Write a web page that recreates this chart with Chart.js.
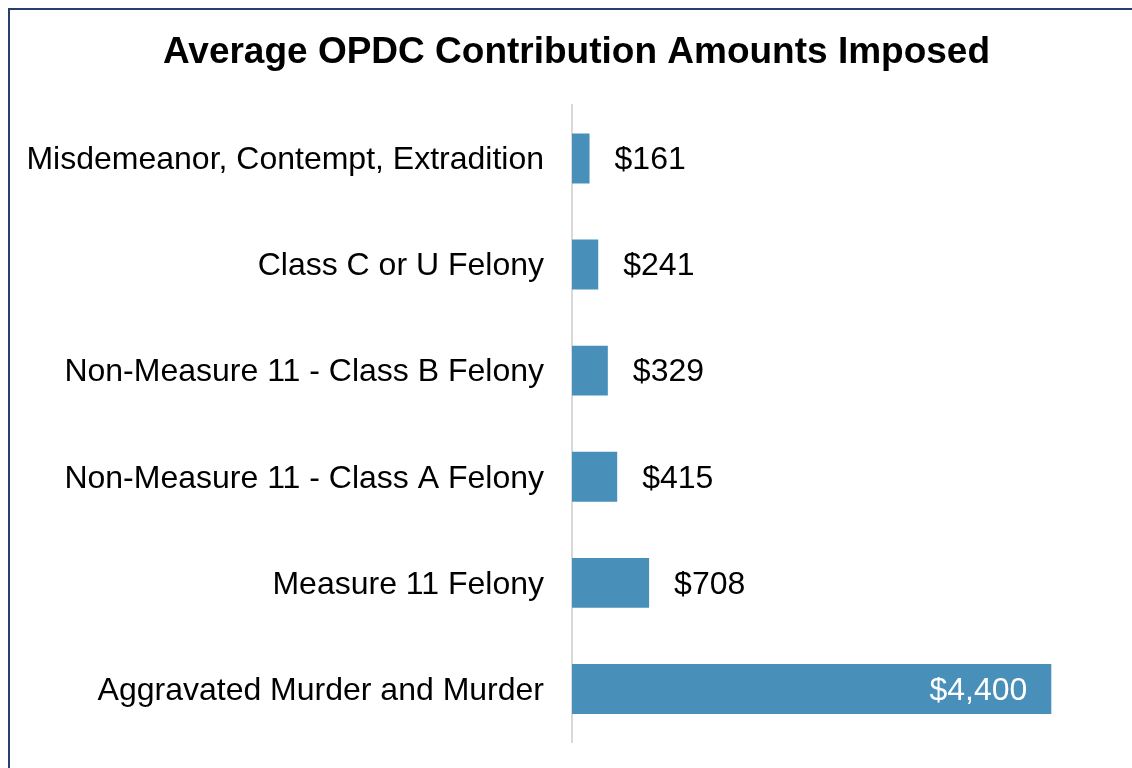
<!DOCTYPE html>
<html>
<head>
<meta charset="utf-8">
<script src="https://cdn.jsdelivr.net/npm/chart.js@4/dist/chart.umd.min.js"></script>
<style>
  html, body { margin: 0; padding: 0; background: #fff; overflow: hidden; }
  #wrap { position: absolute; left: 0; top: 0; width: 1132px; height: 768px; overflow: hidden; }
  #frame { position: absolute; left: 8px; top: 8px; width: 1200px; height: 900px; border: 2px solid #253f6e; box-sizing: border-box; }
  canvas { position: absolute; left: 10px; top: 0; }
</style>
</head>
<body>
<div id="wrap">
  <div id="frame"></div>
  <canvas id="c" width="1132" height="768"></canvas>
</div>
<script>
const categories = [
  "Misdemeanor, Contempt, Extradition",
  "Class C or U Felony",
  "Non-Measure 11 - Class B Felony",
  "Non-Measure 11 - Class A Felony",
  "Measure 11 Felony",
  "Aggravated Murder and Murder"
];
const amounts = [161, 241, 329, 415, 708, 4400];
const valueLabels = ["$161", "$241", "$329", "$415", "$708", "$4,400"];

const FONT = "'Liberation Sans', Arial, sans-serif";

const labelPlugin = {
  id: 'valueLabels',
  afterDatasetsDraw(chart) {
    const ctx = chart.ctx;
    const meta = chart.getDatasetMeta(0);
    ctx.save();
    ctx.font = "32px " + FONT;
    ctx.textBaseline = 'middle';
    meta.data.forEach((bar, i) => {
      const txt = valueLabels[i];
      if (i === meta.data.length - 1) {
        ctx.fillStyle = '#ffffff';
        ctx.textAlign = 'right';
        ctx.fillText(txt, bar.x - 24, bar.y + 2);
      } else {
        ctx.fillStyle = '#000000';
        ctx.textAlign = 'left';
        ctx.fillText(txt, bar.x + 25, bar.y + 2);
      }
    });
    ctx.restore();
  }
};

new Chart(document.getElementById('c'), {
  type: 'bar',
  data: {
    labels: categories,
    datasets: [{
      data: amounts,
      backgroundColor: '#4890BA',
      borderWidth: 0,
      categoryPercentage: 1,
      barPercentage: 0.47
    }]
  },
  options: {
    indexAxis: 'y',
    responsive: false,
    animation: false,
    layout: { padding: { left: 10, right: 9, top: 0, bottom: 26 } },
    plugins: {
      legend: { display: false },
      tooltip: { enabled: false },
      title: {
        display: true,
        text: 'Average OPDC Contribution Amounts Imposed',
        color: '#000',
        font: { family: FONT, size: 37, weight: 'bold' },
        padding: { top: 31, bottom: 30 }
      }
    },
    scales: {
      x: { display: false, min: 0, max: 5150 },
      y: {
        afterFit(scale) { scale.width = 552; scale.paddingTop = 0; scale.paddingBottom = 0; },
        grid: { display: true, drawOnChartArea: false, drawTicks: false, color: 'rgba(0,0,0,0)' },
        border: { display: true, color: '#d9d9d9', width: 2 },
        ticks: { color: '#000', padding: 28, labelOffset: 2, font: { family: FONT, size: 32 } }
      }
    }
  },
  plugins: [labelPlugin]
});
</script>
</body>
</html>
